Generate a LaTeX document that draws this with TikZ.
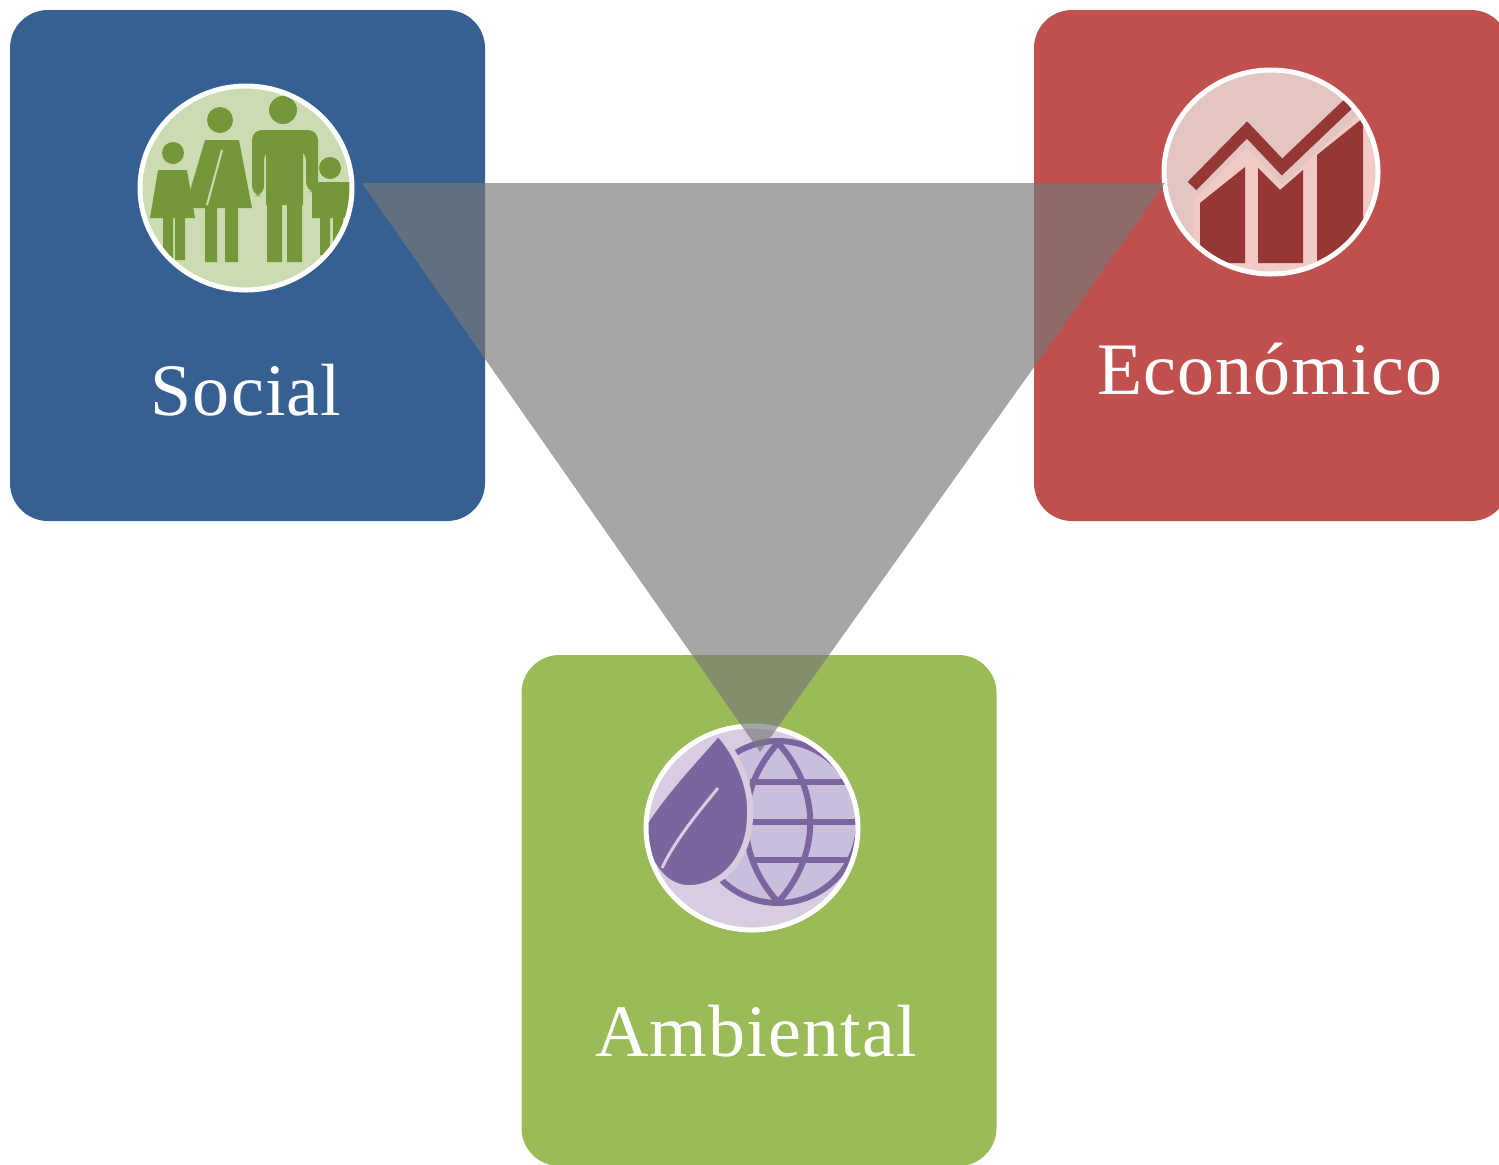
\documentclass[tikz,border=0pt]{standalone}
\usepackage{fontspec}
\setmainfont[LetterSpace=1.5]{Liberation Serif}
\usetikzlibrary{shapes.geometric}
\definecolor{socialblue}{HTML}{366092}
\definecolor{econred}{HTML}{C0504D}
\definecolor{ambgreen}{HTML}{9BBB59}
\definecolor{socialbg}{HTML}{CBDBB2}
\definecolor{socialfig}{HTML}{76963A}
\definecolor{econbg}{HTML}{E3C5C1}
\definecolor{econband}{HTML}{F1CAC5}
\definecolor{econbar}{HTML}{953735}
\definecolor{ambbg}{HTML}{D8CCE0}
\definecolor{ambglobe}{HTML}{C9BEDC}
\definecolor{ambfig}{HTML}{7B659F}
\definecolor{triangrey}{HTML}{787878}
\begin{document}
\begin{tikzpicture}
	[x=0.5pt, y=-0.5pt,
	panel/.style={rectangle, rounded corners=19pt, minimum width=237.5pt, minimum height=255.5pt, inner sep=0pt, outer sep=0pt},
	icon/.style={ellipse, draw=white, line width=2.5pt, minimum width=106pt, minimum height=102pt, inner sep=0pt, outer sep=0pt},
	caption/.style={text=white, anchor=base, inner sep=0pt, font=\fontsize{37}{40}\selectfont}]
	\useasboundingbox (0,0) rectangle (1499,1164);
	\node[panel, fill=socialblue] (social) at (247.5,265.5) {};
	\node[panel, fill=econred] (econ) at (1271.5,265.5) {};
	\node[panel, fill=ambgreen] (amb) at (759,910.5) {};
	\node[caption] (sociallabel) at (246,415) {Social};
	\node[caption] (econlabel) at (1270,394) {Económico};
	\node[caption] (amblabel) at (756,1056) {Ambiental};
	% family
	\begin{scope}
		\clip (246,188) ellipse (107 and 103);
		\fill[socialbg] (130,80) rectangle (360,300);
		\fill[socialfig] (173,153) circle (11) (220,120) circle (13) (283,110) circle (14) (330,168) circle (11);
		\fill[socialfig] (158,170) -- (187,170) -- (195,218) -- (150,218) -- cycle;
		\fill[socialfig] (163,215) rectangle (173,260) (175,215) rectangle (185,260);
		\fill[socialfig] (205,140) -- (239,140) -- (252,208) -- (185,208) -- cycle;
		\fill[socialfig] (205,205) rectangle (217,262) (225,205) rectangle (238,262);
		\fill[socialfig, rounded corners=5pt] (252,196) -- (252,130) -- (318,130) -- (318,192) -- (306,192) -- (306,150) -- (264,150) -- (264,196) -- cycle;
		\fill[socialfig] (266,135) rectangle (303,205) (267,200) rectangle (282,262) (287,200) rectangle (302,262);
		\fill[socialfig] (312,182) rectangle (350,218) (320,215) rectangle (330,255) (333,215) rectangle (343,255);
		\draw[socialbg, line width=1pt] (207,205) -- (222,150);
	\end{scope}
	\node[icon] (socialicon) at (246,188) {};
	% chart
	\begin{scope}
		\clip (1271,172) ellipse (109 and 103);
		\fill[econbg] (1150,60) rectangle (1390,285);
		\fill[econband] (1193,200) -- (1247,148) -- (1282,185) -- (1400,76) -- (1400,290) -- (1193,290) -- cycle;
		\fill[econbar] (1200,203) -- (1245,167) -- (1245,263) -- (1200,263) -- cycle;
		\fill[econbar] (1258,168) -- (1280,190) -- (1303,170) -- (1303,263) -- (1258,263) -- cycle;
		\fill[econbar] (1317,155) -- (1363,118) -- (1363,263) -- (1317,263) -- cycle;
		\draw[econbar, line width=6pt] (1192,186) -- (1247,130) -- (1282,167) -- (1365,88);
	\end{scope}
	\node[icon, minimum width=107pt] (econicon) at (1271,172) {};
	% leaf and globe
	\begin{scope}
		\clip (752,828) ellipse (107 and 103);
		\fill[ambbg] (635,715) rectangle (870,940);
		\draw[ambfig, fill=ambglobe, line width=3pt] (778,822) circle (81);
		\draw[ambfig, line width=3pt] (778,743) .. controls (735,790) and (735,855) .. (778,902);
		\draw[ambfig, line width=3pt] (778,743) .. controls (821,790) and (821,855) .. (778,902);
		\draw[ambfig, line width=3pt] (750,782) -- (870,782) (750,822) -- (870,822) (750,860) -- (870,860);
		\draw[ambbg, fill=ambfig, line width=3pt] (718,733) .. controls (735,750) and (752,785) .. (750,815) .. controls (750,860) and (720,890) .. (685,888) .. controls (665,885) and (650,870) .. (640,830) .. controls (665,790) and (695,760) .. cycle;
		\draw[ambbg, line width=1.5pt] (662,868) .. controls (675,840) and (700,810) .. (718,788);
	\end{scope}
	\node[icon] (ambicon) at (752,828) {};
	% triangle on top
	\coordinate (tleft) at (362,183);
	\coordinate (tright) at (1165,183);
	\coordinate (tbottom) at (760,752);
	\fill[triangrey, opacity=0.66] (tleft) -- (tright) -- (tbottom) -- cycle;
\end{tikzpicture}
\end{document}
